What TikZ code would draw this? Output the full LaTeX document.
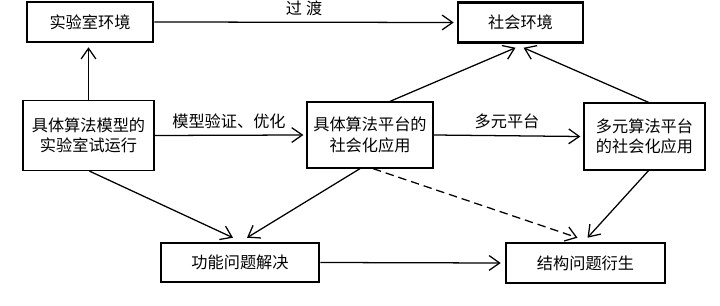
\documentclass[tikz,border=0pt]{standalone}
\usepackage{fontspec}
\newfontfamily\cjk{Noto Sans CJK SC}
\usepackage{tikz}
\usetikzlibrary{arrows.meta,calc,positioning}

\begin{document}
\begin{tikzpicture}[x=0.025cm,y=-0.025cm,
    every node/.style={font=\fontsize{11.5}{14.5}\selectfont\cjk},
    envbox/.style={draw,line width=1.8pt,minimum height=1cm,inner sep=0pt},
    appbox/.style={draw,line width=0.9pt,align=center,inner sep=0pt},
    arr/.style={line width=0.9pt,-{Straight Barb[length=7.5pt,width=10.5pt,line width=0.9pt]}}]
  \useasboundingbox[fill=white] (0,0) rectangle (720,306);
  % boxes
  \node[envbox,minimum width=126*0.025cm] (lab) at (90,22) {实验室环境};
  \node[envbox,minimum width=125*0.025cm] (soc) at (520.5,22.5) {社会环境};
  \node[appbox,minimum width=131*0.025cm,minimum height=70*0.025cm] (run) at (88.5,135.5) {具体算法模型的\\实验室试运行};
  \node[appbox,minimum width=126*0.025cm,minimum height=66*0.025cm] (plat) at (370,135) {具体算法平台的\\社会化应用};
  \node[appbox,minimum width=121*0.025cm,minimum height=67*0.025cm] (multi) at (644.5,136.5) {多元算法平台\\的社会化应用};
  \node[envbox,minimum width=158*0.025cm,minimum height=39*0.025cm] (func) at (240,262.5) {功能问题解决};
  \node[envbox,minimum width=159*0.025cm] (struct) at (585.5,263) {结构问题衍生};
  % arrows
  \draw[arr] (lab.east) -- node[above=1pt] (tr) {过\hspace{0.25em}渡} ($(soc.west)+(-3,0)$);
  \draw[arr] (run.north) -- ($(run.north |- lab.south)+(0,4)$);
  \draw[arr] (run.east) -- node[above=1pt] (ver) {模型验证、优化} ($(plat.west)+(-3,0)$);
  \draw[arr] (plat.east) -- node[above=1pt] (mp) {多元平台} ($(multi.west)+(-3,0)$);
  \draw[arr] ($(plat.north)+(20,0)$) -- ($(soc.south)+(-5,4)$);
  \draw[arr] ($(multi.north)+(4,0)$) -- ($(soc.south)+(3,4)$);
  \draw[arr] ($(run.south)+(1,0)$) -- ($(func.north)+(-7,-4)$);
  \draw[arr] ($(plat.south)+(-10,0)$) -- ($(func.north)+(7,-4)$);
  \draw[arr,dash pattern=on 6pt off 3.5pt] ($(plat.south)+(3,0)$) -- ($(struct.north)+(-8,-4)$);
  \draw[arr] ($(multi.south)+(4,0)$) -- ($(struct.north)+(2,-4)$);
  \draw[arr] (func.east) -- ($(struct.west)+(-4,0)$);
\end{tikzpicture}
\end{document}
